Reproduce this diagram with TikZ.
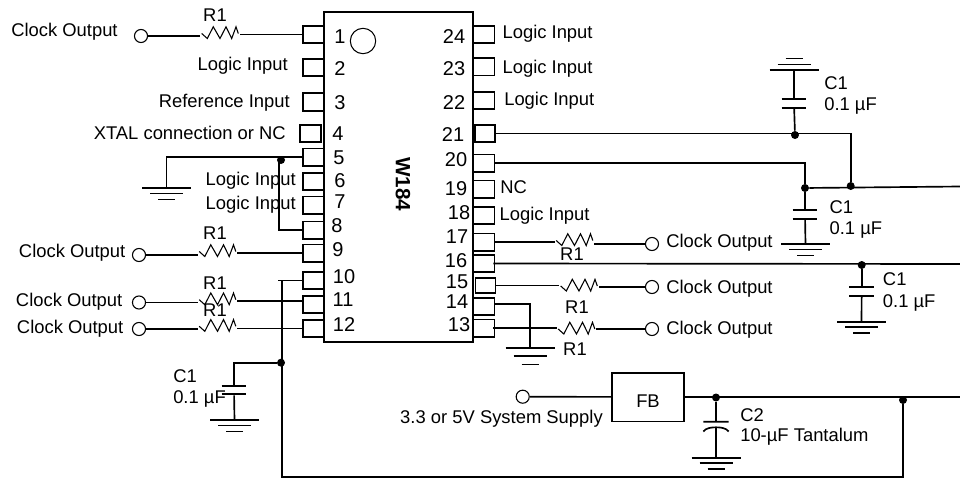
\documentclass[tikz,border=0pt]{standalone}
\usepackage{fontspec}
\setmainfont{Liberation Sans}
\usetikzlibrary{arrows.meta,positioning,calc}
\tikzset{
  base/.style={align=left, inner sep=0pt, text=black},
  label_text/.style={base, font=\fontsize{13.8}{16}\selectfont, text height=9.8pt, text depth=0pt},
  pinnum/.style={base, font=\fontsize{15}{18}\selectfont},
  chip/.style={rectangle, draw=black, line width=1.25pt, minimum width=111.75pt, minimum height=247.5pt},
  pinbox/.style={rectangle, draw=black, line width=1.25pt, inner sep=0pt, minimum width=15.75pt, minimum height=13pt},
  wire/.style={draw=black, line width=1.25pt},
  term/.style={circle, draw=black, fill=white, line width=0.8pt, inner sep=0pt, minimum size=9.8pt},
  dot/.style={circle, fill=black, inner sep=0pt, minimum size=6pt},
  resistor/.style={inner sep=0pt, minimum width=29.25pt, minimum height=10.5pt, path picture={
    \draw[line width=0.8pt, shift={(path picture bounding box.center)}]
      (-18.3,1) -- (-12.7,6) -- (-6.7,-5.7) -- (0,6) -- (6,-5.7) -- (11.7,6) -- (16,-5.7) -- (18.3,1);}},
  capac/.style={inner sep=0pt, minimum width=20pt, minimum height=7.5pt, path picture={
    \draw[wire, shift={(path picture bounding box.center)}] (-12.4,-4.2) -- (12.4,-4.2) (-12.4,4.2) -- (12.4,4.2);}},
  gndsym/.pic={
    \draw[wire] (-24.5,0) -- (24.5,0) (-16.5,5.5) -- (16.5,5.5) (-8.5,11.5) -- (8.5,11.5);},
  tantsym/.pic={
    \draw[wire] (-12.7,0) -- (12.7,0)
      (-12.7,9.8) .. controls (-10,6.3) and (-5,5.6) .. (0,5.6) .. controls (5,5.6) and (10,6.3) .. (12.7,9.8);}
}

\begin{document}
\begin{tikzpicture}[x=0.75pt, y=-0.75pt]
  \useasboundingbox (0,0) rectangle (960,478);

  % Package
  \node[chip] (ic) at (398.5,177) {};
  \node[base, font=\fontsize{15.5}{18}\bfseries\selectfont, rotate=-90] (name) at (403,184) {W184};
  \draw[line width=0.8pt] (363,41) circle[radius=12.7];

  % Left pins
  \node[pinbox] (p1) at (313.5,34.5) {};
  \node[pinbox] (p2) at (313.5,67.5) {};
  \node[pinbox] (p3) at (313.5,102) {};
  \node[pinbox] (p4) at (310.5,133.5) {};
  \node[pinbox] (p5) at (313.5,157) {};
  \node[pinbox] (p6) at (313.5,181.5) {};
  \node[pinbox] (p7) at (313.5,205) {};
  \node[pinbox] (p8) at (313.5,230) {};
  \node[pinbox] (p9) at (313.5,253) {};
  \node[pinbox] (p10) at (313.5,280.5) {};
  \node[pinbox] (p11) at (313.5,304.5) {};
  \node[pinbox] (p12) at (313.5,328.5) {};

  % Right pins
  \node[pinbox] (p24) at (484,34.5) {};
  \node[pinbox] (p23) at (484,67) {};
  \node[pinbox] (p22) at (484,100.5) {};
  \node[pinbox, minimum width=15pt] (p21) at (485,133.5) {};
  \node[pinbox] (p20) at (484,163) {};
  \node[pinbox] (p19) at (484,189) {};
  \node[pinbox] (p18) at (484,215.5) {};
  \node[pinbox] (p17) at (484,242) {};
  \node[pinbox] (p16) at (484,263.5) {};
  \node[pinbox, minimum width=15pt, minimum height=11.5pt] (p15) at (485.5,285.5) {};
  \node[pinbox] (p14) at (484,306.5) {};
  \node[pinbox] (p13) at (484,328) {};

  % Pin numbers
  \node[pinnum] (n1) at (340,37) {1};
  \node[pinnum] (n2) at (340,69) {2};
  \node[pinnum] (n3) at (340,103) {3};
  \node[pinnum] (n4) at (338,134) {4};
  \node[pinnum] (n5) at (339,158) {5};
  \node[pinnum] (n6) at (340,181) {6};
  \node[pinnum] (n7) at (340,202) {7};
  \node[pinnum] (n8) at (337,226) {8};
  \node[pinnum] (n9) at (338,250) {9};
  \node[pinnum] (n10) at (344,277) {10};
  \node[pinnum] (n11) at (343,300) {11};
  \node[pinnum] (n12) at (344,325) {12};
  \node[pinnum] (n24) at (454,37) {24};
  \node[pinnum] (n23) at (454,69) {23};
  \node[pinnum] (n22) at (454,103) {22};
  \node[pinnum] (n21) at (453,135) {21};
  \node[pinnum] (n20) at (456,160) {20};
  \node[pinnum] (n19) at (456,189) {19};
  \node[pinnum] (n18) at (459,213) {18};
  \node[pinnum] (n17) at (457,237) {17};
  \node[pinnum] (n16) at (456,261) {16};
  \node[pinnum] (n15) at (457,282) {15};
  \node[pinnum] (n14) at (457,302) {14};
  \node[pinnum] (n13) at (459,325) {13};

  % Pin labels
  \node[label_text, anchor=east] (l2) at (288,64) {Logic Input};
  \node[label_text, anchor=east] (l3) at (290,101) {Reference Input};
  \node[label_text, anchor=east] (l4) at (286,133) {XTAL connection or NC};
  \node[label_text, anchor=east] (l6) at (296,179) {Logic Input};
  \node[label_text, anchor=east] (l7) at (296,203) {Logic Input};
  \node[label_text, anchor=west] (l24) at (502.3,32) {Logic Input};
  \node[label_text, anchor=west] (l23) at (502.3,67) {Logic Input};
  \node[label_text, anchor=west] (l22) at (504,99.3) {Logic Input};
  \node[label_text, anchor=west] (l19) at (500,186.7) {NC};
  \node[label_text, anchor=west] (l18) at (499.3,214) {Logic Input};

  % Clock outputs, left
  \node[term] (t1) at (141,36) {};
  \node[term] (t9) at (139,255) {};
  \node[term] (t11) at (139,302.5) {};
  \node[term] (t12) at (139,329) {};
  \node[resistor] (r1) at (220,32.5) {};
  \node[resistor] (r9) at (217.5,250.5) {};
  \node[resistor] (r11) at (217.5,298.7) {};
  \node[resistor] (r12) at (217.5,325.3) {};
  \node[label_text, anchor=west] (lc1) at (11,30) {Clock Output};
  \node[label_text, anchor=west] (lc9) at (18.7,250.7) {Clock Output};
  \node[label_text, anchor=west] (lc11) at (15.7,300) {Clock Output};
  \node[label_text, anchor=west] (lc12) at (16.7,326.7) {Clock Output};
  \node[label_text] (lr1) at (215,15) {R1};
  \node[label_text] (lr9) at (215,233) {R1};
  \node[label_text] (lr11) at (215,282.7) {R1};
  \node[label_text] (lr12) at (215,310) {R1};

  % Clock outputs, right
  \node[term] (t17) at (652,244) {};
  \node[term] (t15) at (652,287) {};
  \node[term] (t13) at (652,329) {};
  \node[resistor] (r17) at (574.5,239.5) {};
  \node[resistor] (r15) at (579,285) {};
  \node[resistor] (r13) at (576.5,328) {};
  \node[label_text, anchor=west] (lc17) at (666,241) {Clock Output};
  \node[label_text, anchor=west] (lc15) at (666,287) {Clock Output};
  \node[label_text, anchor=west] (lc13) at (666,328) {Clock Output};
  \node[label_text] (lr17) at (572,254) {R1};
  \node[label_text] (lr15) at (577,307) {R1};
  \node[label_text] (lr13) at (575,349) {R1};

  % Decoupling
  \coordinate (g21) at (794,70);
  \node[capac] (c21) at (794,103.5) {};
  \node[dot] (d21) at (795,135) {};
  \node[dot] (d20) at (805,188) {};
  \node[dot] (d21b) at (850.7,186) {};
  \node[capac] (c20) at (805,214.5) {};
  \coordinate (g20) at (805.5,244);
  \node[dot] (d16) at (861.7,265) {};
  \node[capac] (c16) at (861.7,291.5) {};
  \coordinate (g16) at (861.5,321.7);
  \node[label_text, anchor=west] (lc21) at (824,82.7) {C1};
  \node[label_text, anchor=west] (lv21) at (824,104) {0.1 µF};
  \node[label_text, anchor=west] (lc20) at (829.3,207) {C1};
  \node[label_text, anchor=west] (lv20) at (829.3,228) {0.1 µF};
  \node[label_text, anchor=west] (lc16) at (882.7,279) {C1};
  \node[label_text, anchor=west] (lv16) at (882.7,300.7) {0.1 µF};

  % Ground pins and the left capacitor
  \coordinate (g5) at (166.5,188);
  \coordinate (g14) at (530,347.7);
  \node[dot] (d5) at (281,160) {};
  \node[dot] (d10) at (281,362.7) {};
  \node[capac] (c10) at (234,390) {};
  \coordinate (g10) at (234.5,420);
  \node[label_text, anchor=west] (lc10) at (173,376) {C1};
  \node[label_text, anchor=west] (lv10) at (173,396.7) {0.1 µF};

  % Supply
  \node[term] (tsup) at (522.7,396.7) {};
  \node[rectangle, draw=black, line width=1.25pt, minimum width=54pt, minimum height=36.5pt, font=\fontsize{13.8}{16}\selectfont, text height=15.4pt, text depth=0pt] (fb) at (648,397) {FB};
  \node[dot] (dc2) at (716,397.5) {};
  \node[dot] (dsup) at (903,400) {};
  \coordinate (c2) at (716,421.7);
  \coordinate (c2b) at (716,427.3);
  \coordinate (g2) at (716,457.7);
  \node[label_text, anchor=east] (lsup) at (603,417) {3.3 or 5V System Supply};
  \node[label_text, anchor=west] (lc2) at (740,415) {C2};
  \node[label_text, anchor=west] (lv2) at (740,435) {10-µF Tantalum};

  % Ground and tantalum symbols
  \pic at (g5) {gndsym};
  \pic[yscale=1.45] at (g14) {gndsym};
  \pic at (g10) {gndsym};
  \pic[yscale=-1] at (g21) {gndsym};
  \pic at (g20) {gndsym};
  \pic at (g16) {gndsym};
  \pic at (g2) {gndsym};
  \pic at (c2) {tantsym};

  % Free ends and corners
  \coordinate (j5) at (279,157);
  \coordinate (s10) at (278,280.5);
  \coordinate (j10) at (282,280.5);
  \coordinate (cbot) at (282,477);
  \coordinate (e21) at (960,186.5);
  \coordinate (e16) at (960,264);
  \coordinate (esup) at (960,397);

  % Wires, left side
  \draw[wire] (t1) -- (t1 -| r1.west);
  \draw[wire] (p1.west) -- (p1.west -| r1.east);
  \draw[wire] (t9) -- (t9 -| r9.west);
  \draw[wire] (p9.west) -- (p9.west -| r9.east);
  \draw[wire] (t11) -- (t11 -| r11.west);
  \draw[wire] ([yshift=2.5pt]p11.west) -- ([yshift=2.5pt]p11.west -| r11.east);
  \draw[wire] (t12) -- (t12 -| r12.west);
  \draw[wire] (p12.west) -- (p12.west -| r12.east);
  \draw[wire] (p5.west) -| (g5);
  \draw[wire] (j5) |- ([xshift=1.5pt]p8.west);
  \draw[wire] (p10.west) -- (s10);
  \draw[wire] (j10) -- (cbot) -| (dsup);
  \draw[wire] (d10) -| (c10.north);
  \draw[wire] (c10) -- (g10);

  % Wires, right side
  \draw[wire] (p17.east) -- (p17.east -| r17.west);
  \draw[wire] (t17) -- (t17 -| r17.east);
  \draw[wire] (p15.east) -- (p15.east -| r15.west);
  \draw[wire] (t15) -- (t15 -| r15.east);
  \draw[wire] ([xshift=-1.5pt]p13.east) -- (p13.east -| r13.west);
  \draw[wire] (t13) -- (t13 -| r13.east);
  \draw[wire] ([yshift=1.9pt]p14.east) -| (g14);
  \draw[wire] (g21) -- (c21);
  \draw[wire] (c21) -- (d21);
  \draw[wire] (p21.east) -| (d21b);
  \draw[wire] (p20.east) -| (d20);
  \draw[wire] (d20) -- (e21);
  \draw[wire] (d20) -- (c20);
  \draw[wire] (c20) -- (g20);
  \draw[wire] ([xshift=-1.5pt]p16.east) -- (e16);
  \draw[wire] (d16) -- (c16);
  \draw[wire] (c16) -- (g16);

  % Wires, supply
  \draw[wire] (tsup) -- (fb);
  \draw[wire] (fb) -- (esup);
  \draw[wire] (dc2) -- (c2);
  \draw[wire] (c2b) -- (g2);
\end{tikzpicture}
\end{document}
